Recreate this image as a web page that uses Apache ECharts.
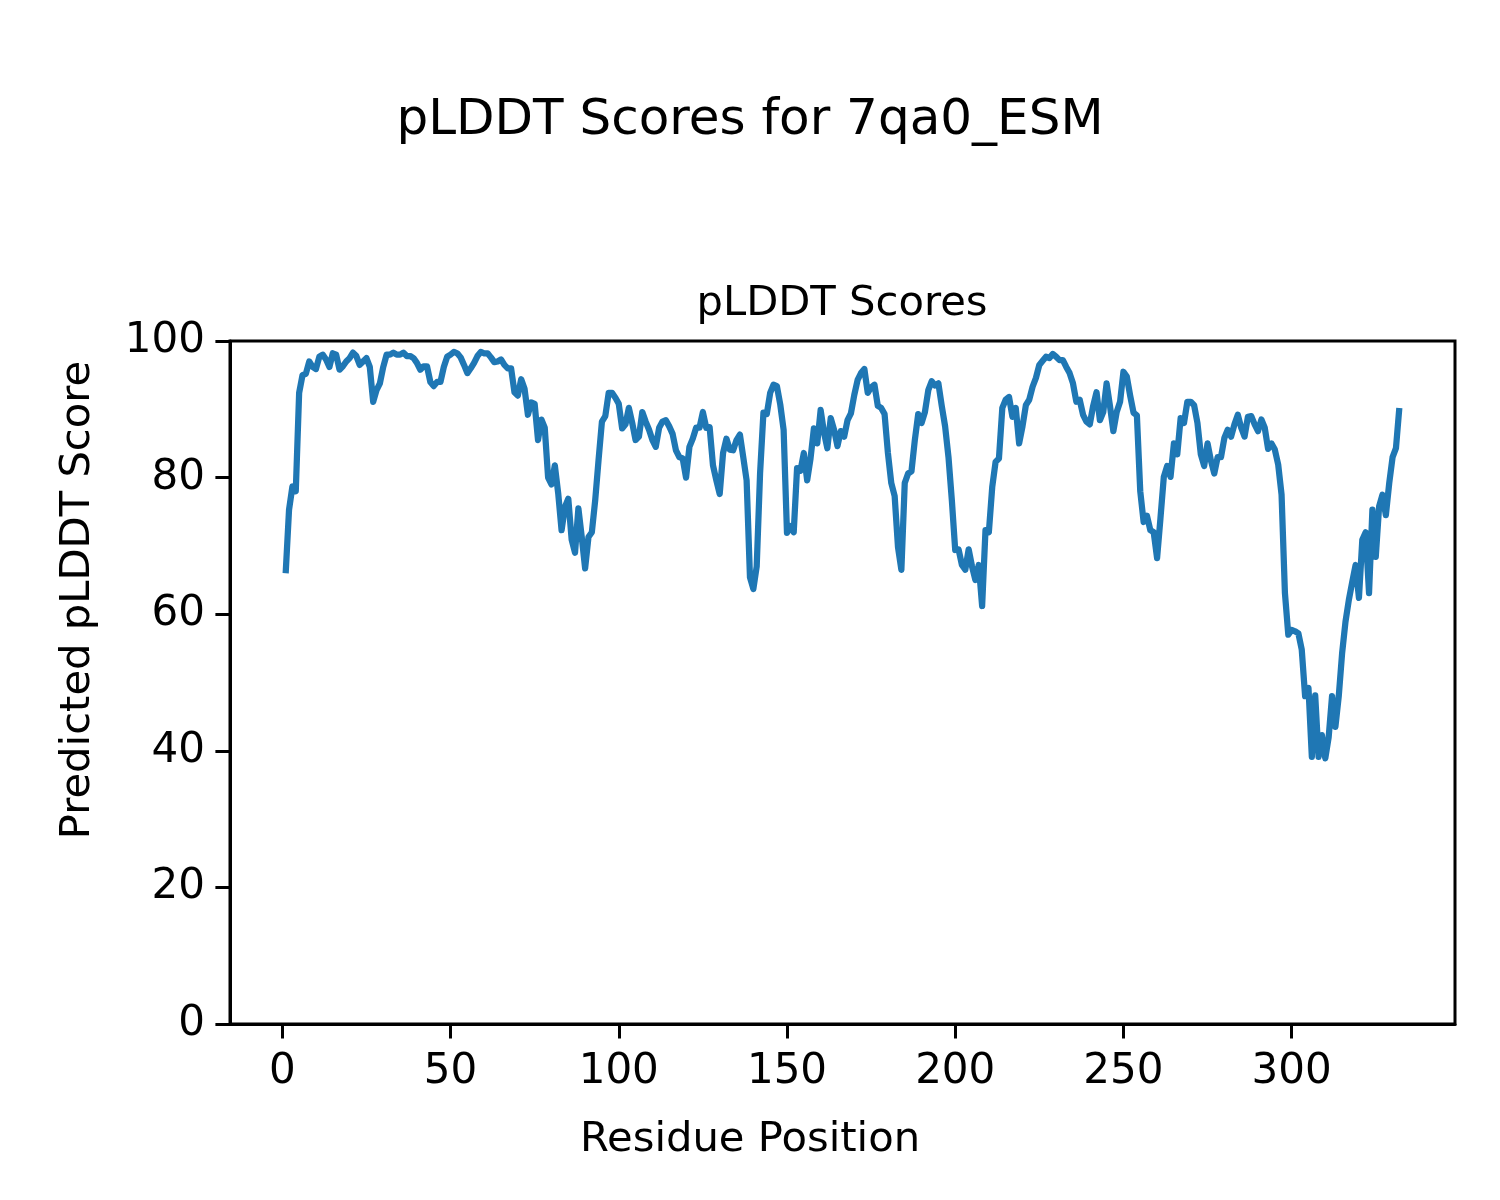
<!DOCTYPE html>
<html>
<head>
<meta charset="utf-8">
<script src="https://cdn.jsdelivr.net/npm/echarts@6/dist/echarts.min.js"></script>
<style>
html,body{margin:0;padding:0;background:#fff;}
#chart{width:1500px;height:1200px;}
</style>
</head>
<body>
<div id="chart"></div>
<script>
const residueStart = 1;
const plddtScores = [
66,75.3,78.7,78,92.4,95,95.2,97,96.2,95.9,
97.7,98,97.3,96.2,98.2,98,95.8,96.3,97,97.5,
98.3,97.8,96.5,97,97.5,96.2,91.1,92.8,93.8,96.2,
98,98,98.3,98,98,98.3,97.8,97.8,97.5,96.8,
95.8,96.3,96.3,94,93.4,94,94,96.2,97.7,98,
98.4,98.2,97.6,96.5,95.3,96,96.8,97.8,98.4,98.2,
98.2,97.6,96.9,97,97.3,96.5,96,96,92.5,92,
94.4,93,89.2,91,90.8,85.5,88.5,87.3,80,79,
81.8,77.7,72.3,75.7,76.9,70.9,69,75.5,71.3,66.7,
71.3,72,76.7,82.6,88.2,89,92.4,92.4,91.7,90.8,
87.2,87.8,90.2,88,85.5,86,89.6,88.2,87,85.5,
84.5,87.3,88.2,88.4,87.5,86.4,84,83,82.8,80,
84.5,85.7,87.3,87.3,89.6,87.3,87.4,81.8,79.6,77.6,
83.6,85.7,84.1,84,85.5,86.3,83,79.6,65.4,63.7,
67,80.6,89.5,89.3,92.4,93.6,93.4,90.7,87,71.9,
72.9,72,81.4,81,83.6,79.6,82.8,87.2,85,89.9,
86.6,84.3,88.7,87,84.6,86.8,86,88.4,89.4,92.1,
94.3,95.3,95.9,92.4,93.2,93.6,90.5,90.2,89.3,83.6,
79.2,77.3,69.8,66.5,79.2,80.6,80.9,85.5,89.3,88,
89.6,92.8,94.1,93.5,93.8,90.5,87.5,83,76.7,69.4,
69.5,67.2,66.5,69.5,67,65,67.2,61.2,72.3,72,
78.6,82.3,82.8,90.2,91.4,91.8,88.9,90.2,85,87.5,
90.6,91.4,93.3,94.6,96.5,97.1,97.7,97.5,98.1,97.7,
97.2,97.2,96.2,95.3,93.8,91.1,91.4,89.2,88.2,87.8,
90.5,92.5,88.4,89.6,93.8,90.5,86.8,89.6,91.1,95.5,
94.8,92,89.5,89.1,78,73.5,74.4,72.3,72,68.2,
74,80.1,81.7,80.1,85,83.4,88.7,88,91.1,91.1,
90.6,88,83.4,81.7,85,82.5,80.6,83,83,85.8,
87,86,87.8,89.2,87.3,86,88.9,89,87.8,86.8,
88.5,87.3,84.2,85,84.1,81.9,77.5,63.1,57,57.7,
57.5,57.2,54.8,48,49.2,39.1,48.1,39.1,42.3,38.9,
42,48,43.5,48,54.3,58.9,62.1,64.7,67.2,62.4,
70.9,72,63.1,75.3,68.4,75.8,77.5,74.5,79.2,83,
84.3,90.2
];
const xTicks = [0, 50, 100, 150, 200, 250, 300];
const yTicks = [0, 20, 40, 60, 80, 100];
const figTitle = 'pLDDT Scores for 7qa0_ESM';
const axesTitle = 'pLDDT Scores';
const xLabel = 'Residue Position';
const yLabel = 'Predicted pLDDT Score';

const seriesData = plddtScores.map((v, i) => [residueStart + i, v]);
const n = plddtScores.length;
const xFirst = residueStart, xLast = residueStart + n - 1;
const pad = (xLast - xFirst) * 0.05;

const FONT = 'DejaVu Sans';
const chart = echarts.init(document.getElementById('chart'), null, {renderer: 'canvas'});
chart.setOption({
  animation: false,
  backgroundColor: '#fff',
  grid: {left: 230, right: 45, top: 341, bottom: 176, show: true, borderColor: '#000', borderWidth: 3, containLabel: false},
  xAxis: {
    type: 'value', min: xFirst - pad, max: xLast + pad,
    splitLine: {show: false},
    axisLine: {show: true, onZero: false, lineStyle: {color: '#000', width: 3}},
    axisTick: {show: true, length: 14.6, lineStyle: {color: '#000', width: 3}, customValues: xTicks},
    axisLabel: {show: true, customValues: xTicks, margin: 27, color: '#000', fontSize: 42, fontFamily: FONT},
    minorTick: {show: false}
  },
  yAxis: {
    type: 'value', min: 0, max: 100, interval: 20,
    splitLine: {show: false},
    axisLine: {show: true, onZero: false, lineStyle: {color: '#000', width: 3}},
    axisTick: {show: true, length: 14.6, lineStyle: {color: '#000', width: 3}},
    axisLabel: {show: true, margin: 25, color: '#000', fontSize: 42, fontFamily: FONT,
      customValues: yTicks}
  },
  series: [{
    type: 'line', data: seriesData, showSymbol: false, symbol: 'none',
    lineStyle: {color: '#1f77b4', width: 6.25, join: 'round', cap: 'butt'},
    clip: true
  }],
  graphic: [
    {type: 'text', x: 750, y: 121, style: {text: figTitle, fontSize: 50, fontFamily: FONT, fill: '#000', align: 'center', verticalAlign: 'middle'}},
    {type: 'text', x: 842, y: 304, style: {text: axesTitle, fontSize: 41.7, fontFamily: FONT, fill: '#000', align: 'center', verticalAlign: 'middle'}},
    {type: 'text', x: 750, y: 1140, style: {text: xLabel, fontSize: 41.7, fontFamily: FONT, fill: '#000', align: 'center', verticalAlign: 'middle'}},
    {type: 'text', x: 78, y: 600, rotation: Math.PI / 2, style: {text: yLabel, fontSize: 41.7, fontFamily: FONT, fill: '#000', align: 'center', verticalAlign: 'middle'}}
  ]
});
</script>
</body>
</html>
